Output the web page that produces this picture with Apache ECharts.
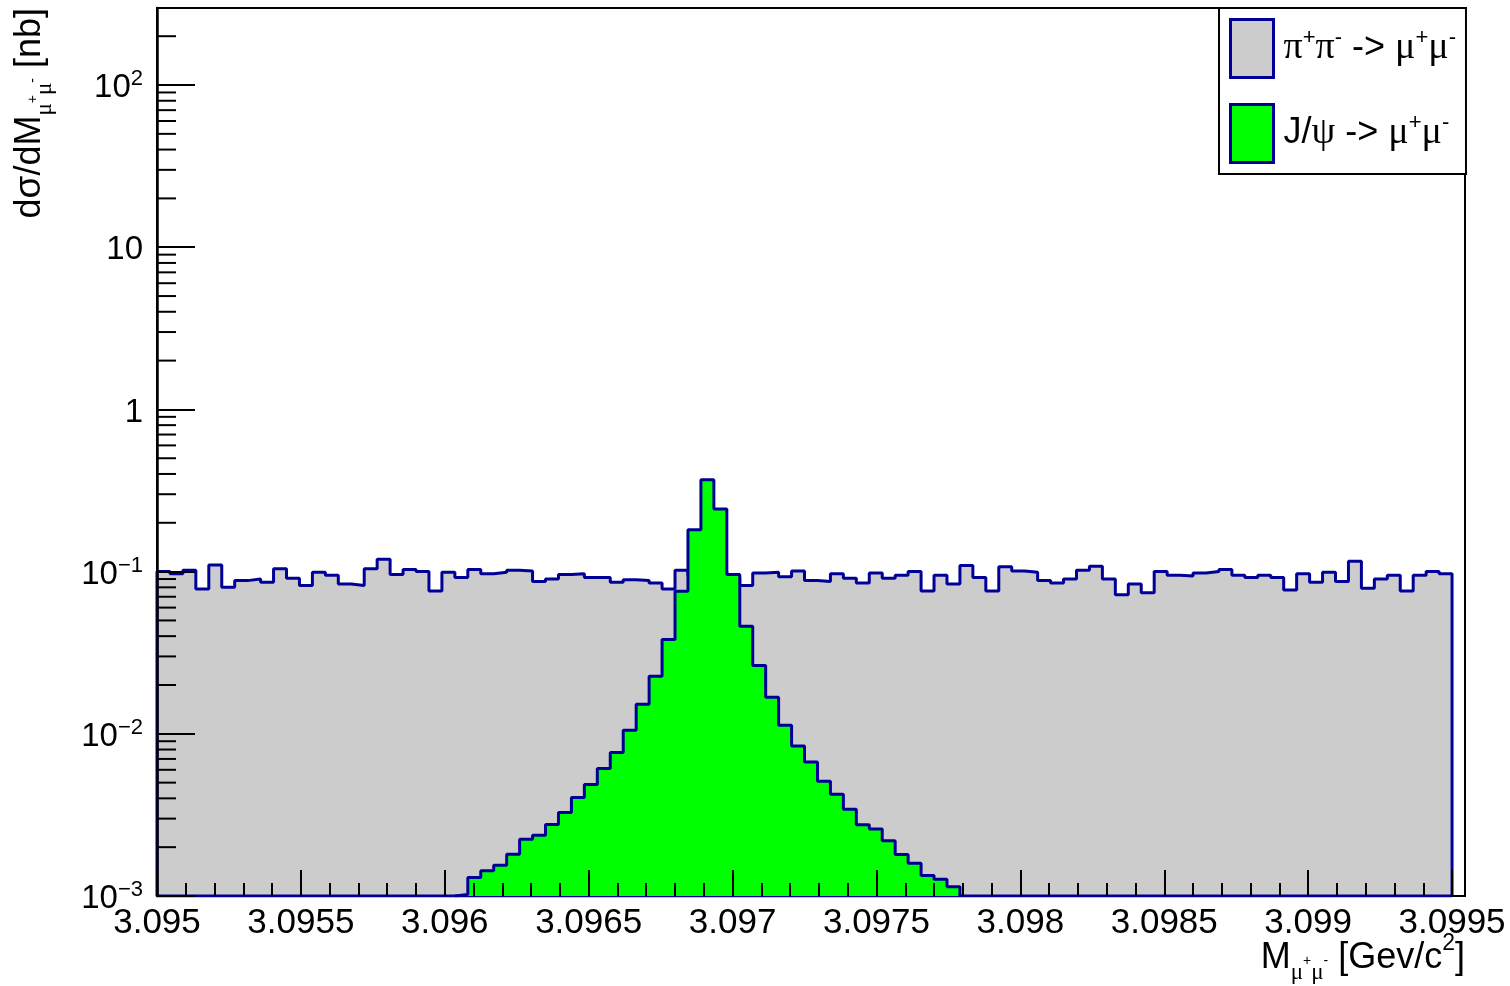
<!DOCTYPE html>
<html>
<head>
<meta charset="utf-8">
<script src="https://cdn.jsdelivr.net/npm/echarts@6/dist/echarts.min.js"></script>
<style>
html,body{margin:0;padding:0;background:#ffffff;}
#chart{width:1510px;height:986px;}
</style>
</head>
<body>
<div id="chart"></div>
<script>
// ---------------- data ----------------
const xStart = 3.095;          // lower edge of first bin [GeV/c^2]
const binWidth = 0.000045;     // bin width [GeV/c^2]
const xMax = 3.099545;         // right end of the frame
const yMin = 0.001;
const yMax = 298.5;

// pi+pi- -> mu+mu- background, 100 bins [nb]
const pipiValues = [
  0.100, 0.097, 0.102, 0.078, 0.110, 0.080, 0.088, 0.090, 0.086, 0.104,
  0.091, 0.082, 0.099, 0.095, 0.084, 0.082, 0.104, 0.119, 0.096, 0.103,
  0.100, 0.076, 0.099, 0.092, 0.103, 0.097, 0.099, 0.102, 0.101, 0.087,
  0.090, 0.096, 0.097, 0.092, 0.092, 0.086, 0.089, 0.088, 0.085, 0.078,
  0.102, 0.095, 0.090, 0.100, 0.092, 0.082, 0.098, 0.099, 0.093, 0.101,
  0.088, 0.087, 0.097, 0.091, 0.085, 0.098, 0.091, 0.095, 0.100, 0.076,
  0.095, 0.084, 0.109, 0.092, 0.076, 0.107, 0.101, 0.099, 0.088, 0.085,
  0.090, 0.102, 0.108, 0.090, 0.072, 0.084, 0.074, 0.100, 0.095, 0.094,
  0.098, 0.100, 0.103, 0.095, 0.092, 0.095, 0.092, 0.077, 0.097, 0.086,
  0.099, 0.087, 0.116, 0.079, 0.090, 0.095, 0.076, 0.095, 0.100, 0.097
];

// J/psi -> mu+mu- signal, 100 bins [nb] (0 = empty bin)
const jpsiValues = [
  0, 0, 0, 0, 0, 0, 0, 0, 0, 0,
  0, 0, 0, 0, 0, 0, 0, 0, 0, 0,
  0, 0, 0, 0.00102, 0.00130, 0.00143, 0.00155, 0.00181, 0.00224, 0.00237,
  0.00276, 0.00327, 0.00405, 0.00487, 0.00610, 0.00766, 0.0105, 0.0152, 0.0226, 0.0382,
  0.0757, 0.181, 0.368, 0.243, 0.0959, 0.0461, 0.0264, 0.0168, 0.0113, 0.0084,
  0.0067, 0.0051, 0.00424, 0.00343, 0.00275, 0.00259, 0.00219, 0.00180, 0.00159, 0.00134,
  0.00127, 0.00114, 0, 0, 0, 0, 0, 0, 0, 0,
  0, 0, 0, 0, 0, 0, 0, 0, 0, 0,
  0, 0, 0, 0, 0, 0, 0, 0, 0, 0,
  0, 0, 0, 0, 0, 0, 0, 0, 0, 0
];

const xTickLabels = ['3.095', '3.0955', '3.096', '3.0965', '3.097', '3.0975', '3.098', '3.0985', '3.099', '3.0995'];
const yMinorMultipliers = [2, 3, 4, 5, 6, 7, 8, 9];
const yDecades = [-3, -2, -1, 0, 1, 2];

const seriesNames = ['pipi', 'jpsi'];
// ---------------------------------------

const SANS = '"Liberation Sans", Arial, Helvetica, sans-serif';
const SERIF = '"Liberation Serif", "Times New Roman", serif';
const LINE_BLUE = '#000099';

function edge(i) { return xStart + i * binWidth; }

function histPoints(values, traceBottom) {
  let i0 = -1, i1 = -1;
  values.forEach((v, i) => { if (v > 0) { if (i0 < 0) i0 = i; i1 = i; } });
  const pts = [];
  if (traceBottom) pts.push([edge(i1 + 1), yMin]);
  pts.push([edge(i0), yMin]);
  for (let i = i0; i <= i1; i++) pts.push([edge(i), values[i]]);
  pts.push([edge(i1 + 1), values[i1]]);
  pts.push([edge(i1 + 1), yMin]);
  return pts;
}

const minorTickData = [];
yDecades.forEach(e => {
  yMinorMultipliers.forEach(m => {
    const v = m * Math.pow(10, e);
    if (v < yMax) minorTickData.push([xStart, v]);
  });
});

const richTitle = {
  t: { fontSize: 36, fontFamily: SANS, color: '#000', lineHeight: 52 },
  g: { fontSize: 37, fontFamily: SANS, color: '#000', lineHeight: 52 },
  sub: { fontSize: 23, fontFamily: SERIF, color: '#000', lineHeight: 22, verticalAlign: 'bottom' },
  subsup: { fontSize: 14, fontFamily: SANS, color: '#000', lineHeight: 14, verticalAlign: 'middle', padding: [6, 0, 0, 0] },
  sup: { fontSize: 23, fontFamily: SANS, color: '#000', lineHeight: 23, verticalAlign: 'top' }
};

const legendText = {
  pipi: '{g|π}{s|+}{g|π}{s|-}{t| -> }{g|μ}{s|+}{g|μ}{s|-}',
  jpsi: '{t|J/}{g|ψ}{t| -> }{g|μ}{s|+}{g|μ}{s|-}'
};

const chart = echarts.init(document.getElementById('chart'), null, { renderer: 'canvas' });

chart.setOption({
  animation: false,
  backgroundColor: '#ffffff',
  grid: {
    left: 157, right: 45, top: 8, bottom: 90,
    show: true, borderColor: '#000', borderWidth: 2, backgroundColor: 'transparent'
  },
  xAxis: {
    type: 'value',
    min: xStart, max: xMax, interval: 0.0005,
    z: 10,
    axisLine: { show: false },
    axisTick: { show: true, inside: true, length: 26, lineStyle: { color: '#000', width: 2 } },
    minorTick: { show: true, splitNumber: 5, length: 13, lineStyle: { color: '#000', width: 2 } },
    splitLine: { show: false },
    minorSplitLine: { show: false },
    axisLabel: {
      fontSize: 35, fontFamily: SANS, color: '#000', margin: 10,
      formatter: function (v) {
        const s = (+v).toFixed(4).replace(/0+$/, '').replace(/\.$/, '');
        return xTickLabels.indexOf(s) >= 0 ? s : '';
      }
    }
  },
  yAxis: {
    type: 'log', logBase: 10,
    min: yMin, max: yMax,
    z: 10,
    axisLine: { show: true, lineStyle: { color: '#000', width: 2.5 } },
    axisTick: { show: true, inside: true, length: 38, lineStyle: { color: '#000', width: 2 } },
    splitLine: { show: false },
    axisLabel: {
      margin: 14, color: '#000', fontFamily: SANS, fontSize: 33,
      padding: [6, 0, 0, 0],
      formatter: function (v) {
        const l = Math.log10(v);
        const e = Math.round(l);
        if (Math.abs(l - e) > 1e-6) return '';
        if (e === 0) return '{b|1}';
        if (e === 1) return '{b|10}';
        return '{b|10}{e|' + (e < 0 ? '\u2212' + (-e) : e) + '}';
      },
      rich: {
        b: { fontSize: 33, fontFamily: SANS, color: '#000', lineHeight: 40 },
        e: { fontSize: 22, fontFamily: SANS, color: '#000', lineHeight: 21, verticalAlign: 'top' }
      }
    }
  },
  legend: {
    left: 1219, top: 8,
    orient: 'vertical',
    selectedMode: false,
    icon: 'rect',
    itemWidth: 43, itemHeight: 58, itemGap: 24,
    padding: [10, 10, 10, 10],
    borderColor: '#000', borderWidth: 2, borderRadius: 0,
    backgroundColor: '#fff',
    z: 20,
    data: [
      { name: seriesNames[0], itemStyle: { color: '#cccccc', borderColor: LINE_BLUE, borderWidth: 3 } },
      { name: seriesNames[1], itemStyle: { color: '#00ff00', borderColor: LINE_BLUE, borderWidth: 3 } }
    ],
    formatter: function (name) { return legendText[name]; },
    textStyle: {
      color: '#000', fontSize: 36, fontFamily: SANS,
      padding: [0, 0, 0, 5],
      rich: {
        t: { fontSize: 36, fontFamily: SANS, color: '#000', lineHeight: 44 },
        g: { fontSize: 38, fontFamily: SERIF, color: '#000', lineHeight: 44 },
        s: { fontSize: 22, fontFamily: SANS, color: '#000', lineHeight: 22, verticalAlign: 'top' }
      }
    }
  },
  graphic: [
    {
      type: 'text', z: 20, silent: true,
      x: 30, y: 8, rotation: Math.PI / 2,
      style: {
        text: '{t|d}{g|σ}{t|/dM}{sub|μ}{subsup|+}{sub|μ}{subsup|-}{t| [nb]}',
        align: 'right', verticalAlign: 'middle',
        rich: richTitle
      }
    },
    {
      type: 'text', z: 20, silent: true,
      x: 1465, y: 958,
      style: {
        text: '{t|M}{sub|μ}{subsup|+}{sub|μ}{subsup|-}{t| [Gev/c}{sup|2}{t|]}',
        align: 'right', verticalAlign: 'middle',
        rich: richTitle
      }
    }
  ],
  series: [
    {
      name: seriesNames[0],
      type: 'line',
      step: 'end',
      data: histPoints(pipiValues, true),
      symbol: 'none',
      silent: true,
      z: 2,
      itemStyle: { color: '#cccccc' },
      lineStyle: { color: LINE_BLUE, width: 3 },
      areaStyle: { color: '#cccccc', opacity: 1, origin: 'start' },
      emphasis: { disabled: true }
    },
    {
      name: seriesNames[1],
      type: 'line',
      step: 'end',
      data: histPoints(jpsiValues, false),
      symbol: 'none',
      silent: true,
      z: 3,
      itemStyle: { color: '#00ff00' },
      lineStyle: { color: LINE_BLUE, width: 3 },
      areaStyle: { color: '#00ff00', opacity: 1, origin: 'start' },
      emphasis: { disabled: true }
    },
    {
      name: 'yMinorTicks',
      type: 'custom',
      silent: true,
      z: 10,
      clip: false,
      data: minorTickData,
      renderItem: function (params, api) {
        const p = api.coord([api.value(0), api.value(1)]);
        return {
          type: 'line',
          shape: { x1: p[0], y1: p[1], x2: p[0] + 19, y2: p[1] },
          style: { stroke: '#000', lineWidth: 2 }
        };
      }
    }
  ]
});
</script>
</body>
</html>
